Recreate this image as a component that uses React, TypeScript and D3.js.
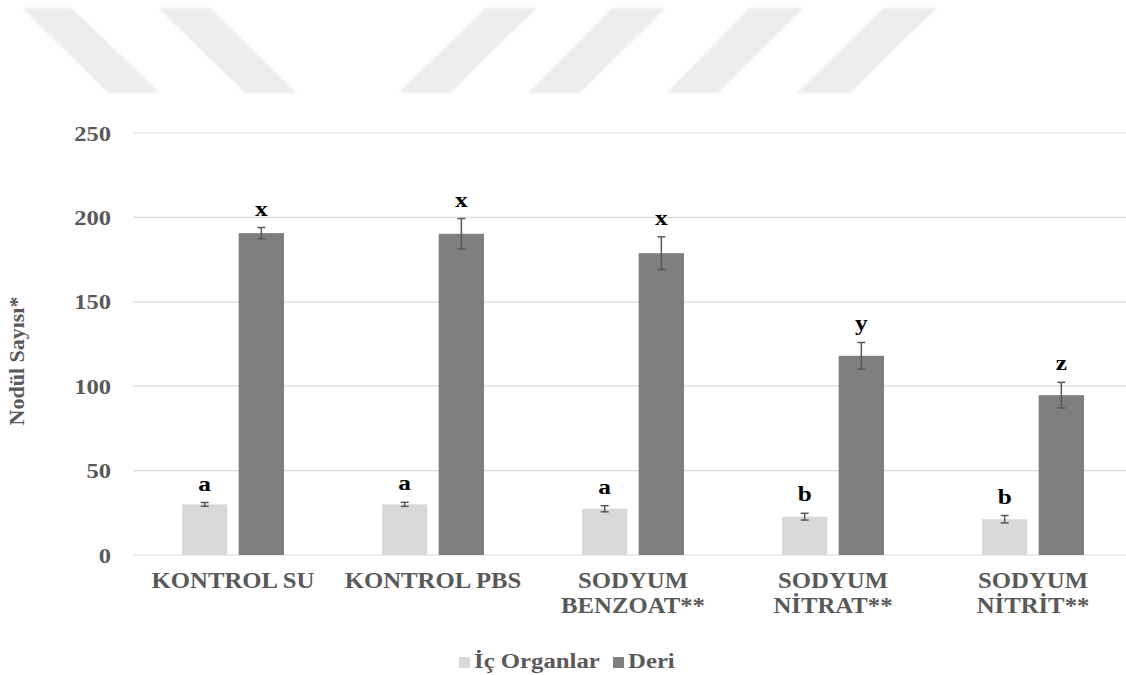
import React from "react";
import * as d3 from "d3";

const categories: string[][] = [
  ["KONTROL SU"],
  ["KONTROL PBS"],
  ["SODYUM", "BENZOAT**"],
  ["SODYUM", "NİTRAT**"],
  ["SODYUM", "NİTRİT**"],
];
const seriesNames = ["İç Organlar", "Deri"];
const icOrganlar = [30.0, 30.0, 27.4, 22.7, 21.2];
const icOrganlarErr = [1.1, 1.2, 1.8, 2.0, 2.2];
const deri = [190.7, 190.3, 178.8, 118.0, 94.7];
const deriErr = [3.3, 9.0, 9.7, 7.9, 7.6];
const icLetters = ["a", "a", "a", "b", "b"];
const deriLetters = ["x", "x", "x", "y", "z"];
const yTicks = [0, 50, 100, 150, 200, 250];
const colors = ["#d9d9d9", "#7f7f7f"];

// decorative watermark stripes (top-left x, top-right x, bottom-right x, bottom-left x)
const stripes = [
  [22, 72, 160, 108],
  [158, 210, 297, 245],
  [486, 537, 450, 398],
  [612, 666, 580, 528],
  [750, 804, 718, 666],
  [883, 937, 850, 797],
];

const W = 1126;
const H = 675;
const font = "'Liberation Serif', 'Times New Roman', serif";
const textGrey = "#595959";

export default function App() {
  const x0 = d3
    .scaleBand<number>()
    .domain(categories.map((_, i) => i))
    .range([133, 1133])
    .padding(0);
  const x1 = d3
    .scaleBand<number>()
    .domain([0, 1])
    .range([-51, 51])
    .paddingInner(0.2);
  const y = d3.scaleLinear().domain([0, 250]).range([555, 133]);

  const series = [
    { vals: icOrganlar, errs: icOrganlarErr, letters: icLetters },
    { vals: deri, errs: deriErr, letters: deriLetters },
  ];

  const stretched = (
    key: string,
    tx: number,
    ty: number,
    txt: string,
    size: number,
    sx: number,
    anchor: string,
    fill: string
  ) => (
    <text
      key={key}
      transform={`translate(${tx},${ty}) scale(${sx},1)`}
      textAnchor={anchor}
      fontFamily={font}
      fontWeight="bold"
      fontSize={size}
      fill={fill}
    >
      {txt}
    </text>
  );

  return (
    <svg
      width={W}
      height={H}
      style={{ position: "absolute", left: 0, top: 0, background: "#fff" }}
    >
      <defs>
        <filter id="blur" x="-5%" y="-5%" width="110%" height="110%">
          <feGaussianBlur stdDeviation="0.8" />
        </filter>
      </defs>
      <g filter="url(#blur)">
        {stripes.map((s, i) => (
          <polygon
            key={i}
            points={`${s[0]},8 ${s[1]},8 ${s[2]},93 ${s[3]},93`}
            fill="#ededed"
          />
        ))}
      </g>

      {/* gridlines */}
      {yTicks.map((t) => (
        <line
          key={t}
          x1={133}
          x2={W}
          y1={y(t)}
          y2={y(t)}
          stroke="#d9d9d9"
          strokeWidth={1.2}
        />
      ))}
      {/* y tick labels */}
      {yTicks.map((t) =>
        stretched(`yt${t}`, 111, y(t) + 7.5, String(t), 20.5, 1.2, "end", textGrey)
      )}

      {/* y title */}
      <text
        transform={`translate(24,361) scale(0.95,1) rotate(-90)`}
        textAnchor="middle"
        fontFamily={font}
        fontWeight="bold"
        fontSize={22}
        fill={textGrey}
      >
        Nodül Sayısı*
      </text>

      {/* bars */}
      {series.map((s, si) =>
        s.vals.map((v, ci) => {
          const bx = (x0(ci) as number) + x0.bandwidth() / 2 + (x1(si) as number);
          const bw = x1.bandwidth();
          const cx = bx + bw / 2;
          const top = y(v + s.errs[ci]);
          const bot = y(v - s.errs[ci]);
          return (
            <g key={`${si}-${ci}`}>
              <rect
                x={bx}
                y={y(v)}
                width={bw}
                height={y(0) - y(v)}
                fill={colors[si]}
              />
              <line x1={cx} x2={cx} y1={top} y2={bot} stroke="#595959" strokeWidth={1.5} />
              <line x1={cx - 4} x2={cx + 4} y1={top} y2={top} stroke="#595959" strokeWidth={1.5} />
              <line x1={cx - 4} x2={cx + 4} y1={bot} y2={bot} stroke="#595959" strokeWidth={1.5} />
              {stretched(`l${si}${ci}`, cx, top - 12, s.letters[ci], 22, 1.15, "middle", "#000")}
            </g>
          );
        })
      )}

      {/* x category labels */}
      {categories.map((lines, ci) =>
        lines.map((ln, li) =>
          stretched(
            `c${ci}${li}`,
            (x0(ci) as number) + x0.bandwidth() / 2,
            588 + li * 25,
            ln,
            22.5,
            1.1,
            "middle",
            textGrey
          )
        )
      )}

      {/* legend */}
      <rect x={459} y={657} width={11} height={11} fill={colors[0]} />
      {stretched("lg0", 474, 668, seriesNames[0], 21, 1.18, "start", textGrey)}
      <rect x={613} y={657} width={11} height={11} fill={colors[1]} />
      {stretched("lg1", 628, 668, seriesNames[1], 21, 1.18, "start", textGrey)}
    </svg>
  );
}
